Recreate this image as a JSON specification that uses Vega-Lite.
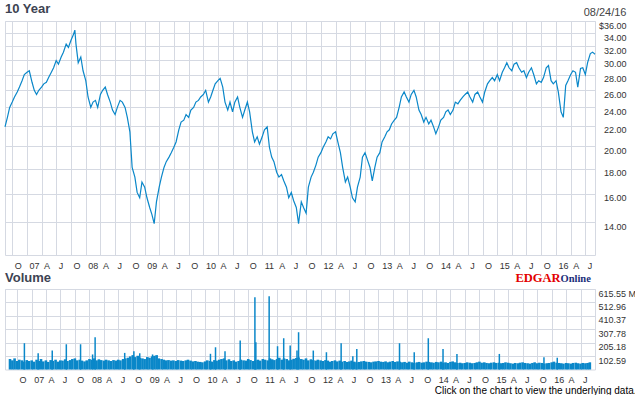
{
"$schema":"https://vega.github.io/schema/vega-lite/v6.json",
"background":"white",
"padding":{"left":2,"top":2,"right":0,"bottom":0},
"autosize":{"type":"pad"},
"config":{"view":{"stroke":"#d5d9e2","strokeWidth":1},"font":"Liberation Sans"},
"bounds":"flush",
"spacing":34,
"datasets":{
"price":[
{"date":"2006-08-17","close":21.9},{"date":"2006-09-01","close":22.9},{"date":"2006-09-15","close":24.0},{"date":"2006-10-01","close":24.6},{"date":"2006-10-15","close":25.2},{"date":"2006-11-01","close":25.8},{"date":"2006-11-15","close":26.4},{"date":"2006-12-01","close":27.2},{"date":"2006-12-15","close":28.0},
{"date":"2007-01-01","close":28.3},{"date":"2007-01-15","close":28.5},{"date":"2007-02-01","close":27.0},{"date":"2007-02-15","close":26.0},{"date":"2007-03-01","close":25.5},{"date":"2007-03-15","close":26.0},{"date":"2007-04-01","close":26.4},{"date":"2007-04-15","close":26.8},{"date":"2007-05-01","close":27.0},{"date":"2007-05-15","close":27.6},{"date":"2007-06-01","close":28.3},{"date":"2007-06-15","close":28.9},{"date":"2007-07-01","close":29.9},{"date":"2007-07-15","close":29.4},{"date":"2007-08-01","close":30.4},{"date":"2007-08-15","close":31.1},{"date":"2007-09-01","close":32.3},{"date":"2007-09-15","close":31.8},{"date":"2007-10-01","close":32.9},{"date":"2007-10-15","close":33.7},{"date":"2007-10-25","close":34.5},{"date":"2007-11-01","close":32.3},{"date":"2007-11-15","close":29.6},{"date":"2007-12-01","close":30.4},{"date":"2007-12-15","close":28.5},
{"date":"2008-01-01","close":27.2},{"date":"2008-01-15","close":25.2},{"date":"2008-02-01","close":24.0},{"date":"2008-02-15","close":24.6},{"date":"2008-03-01","close":24.8},{"date":"2008-03-15","close":24.0},{"date":"2008-04-01","close":25.5},{"date":"2008-04-15","close":26.0},{"date":"2008-05-01","close":26.4},{"date":"2008-05-15","close":25.5},{"date":"2008-06-01","close":24.6},{"date":"2008-06-15","close":23.7},{"date":"2008-07-01","close":23.2},{"date":"2008-07-15","close":24.0},{"date":"2008-08-01","close":24.8},{"date":"2008-08-15","close":24.6},{"date":"2008-09-01","close":24.0},{"date":"2008-09-15","close":22.9},{"date":"2008-10-01","close":21.4},{"date":"2008-10-15","close":18.1},{"date":"2008-11-01","close":17.3},{"date":"2008-11-15","close":16.1},{"date":"2008-12-01","close":15.7},{"date":"2008-12-15","close":16.9},
{"date":"2009-01-01","close":16.5},{"date":"2009-01-15","close":15.7},{"date":"2009-02-01","close":15.0},{"date":"2009-02-15","close":14.5},{"date":"2009-03-01","close":13.9},{"date":"2009-03-15","close":15.4},{"date":"2009-04-01","close":16.5},{"date":"2009-04-15","close":17.3},{"date":"2009-05-01","close":18.1},{"date":"2009-05-15","close":18.6},{"date":"2009-06-01","close":19.0},{"date":"2009-06-15","close":19.4},{"date":"2009-07-01","close":19.9},{"date":"2009-07-15","close":20.4},{"date":"2009-08-01","close":21.6},{"date":"2009-08-15","close":22.4},{"date":"2009-09-01","close":22.6},{"date":"2009-09-15","close":23.2},{"date":"2009-10-01","close":22.9},{"date":"2009-10-15","close":23.7},{"date":"2009-11-01","close":24.0},{"date":"2009-11-15","close":24.6},{"date":"2009-12-01","close":24.8},{"date":"2009-12-15","close":25.2},
{"date":"2010-01-01","close":25.5},{"date":"2010-01-15","close":26.0},{"date":"2010-02-01","close":24.6},{"date":"2010-02-15","close":25.2},{"date":"2010-03-01","close":26.0},{"date":"2010-03-15","close":26.8},{"date":"2010-04-01","close":27.2},{"date":"2010-04-15","close":27.5},{"date":"2010-05-01","close":26.4},{"date":"2010-05-15","close":24.6},{"date":"2010-06-01","close":23.7},{"date":"2010-06-15","close":24.6},{"date":"2010-07-01","close":23.5},{"date":"2010-07-15","close":24.6},{"date":"2010-08-01","close":25.2},{"date":"2010-08-15","close":24.0},{"date":"2010-09-01","close":22.9},{"date":"2010-09-15","close":23.7},{"date":"2010-10-01","close":24.6},{"date":"2010-10-15","close":23.5},{"date":"2010-11-01","close":21.4},{"date":"2010-11-15","close":20.4},{"date":"2010-12-01","close":20.9},{"date":"2010-12-15","close":20.2},
{"date":"2011-01-01","close":20.9},{"date":"2011-01-15","close":21.6},{"date":"2011-02-01","close":21.9},{"date":"2011-02-15","close":19.9},{"date":"2011-03-01","close":19.0},{"date":"2011-03-15","close":18.6},{"date":"2011-04-01","close":17.7},{"date":"2011-04-15","close":17.3},{"date":"2011-05-01","close":17.5},{"date":"2011-05-15","close":17.0},{"date":"2011-06-01","close":16.5},{"date":"2011-06-15","close":15.7},{"date":"2011-07-01","close":16.1},{"date":"2011-07-15","close":15.5},{"date":"2011-08-01","close":15.0},{"date":"2011-08-15","close":13.9},{"date":"2011-09-01","close":15.4},{"date":"2011-09-15","close":15.0},{"date":"2011-10-01","close":14.6},{"date":"2011-10-15","close":16.5},{"date":"2011-11-01","close":17.3},{"date":"2011-11-15","close":17.7},{"date":"2011-12-01","close":18.3},{"date":"2011-12-15","close":19.0},
{"date":"2012-01-01","close":19.4},{"date":"2012-01-15","close":19.9},{"date":"2012-02-01","close":20.4},{"date":"2012-02-15","close":20.9},{"date":"2012-03-01","close":20.7},{"date":"2012-03-15","close":21.2},{"date":"2012-04-01","close":21.4},{"date":"2012-04-15","close":20.4},{"date":"2012-05-01","close":19.4},{"date":"2012-05-15","close":18.1},{"date":"2012-06-01","close":16.9},{"date":"2012-06-15","close":17.3},{"date":"2012-07-01","close":16.5},{"date":"2012-07-15","close":15.7},{"date":"2012-08-01","close":15.4},{"date":"2012-08-15","close":16.5},{"date":"2012-09-01","close":17.3},{"date":"2012-09-15","close":19.0},{"date":"2012-10-01","close":19.4},{"date":"2012-10-15","close":18.8},{"date":"2012-11-01","close":18.1},{"date":"2012-11-15","close":17.0},{"date":"2012-12-01","close":18.1},{"date":"2012-12-15","close":19.0},
{"date":"2013-01-01","close":19.4},{"date":"2013-01-15","close":20.4},{"date":"2013-02-01","close":20.9},{"date":"2013-02-15","close":21.4},{"date":"2013-03-01","close":21.6},{"date":"2013-03-15","close":22.2},{"date":"2013-04-01","close":22.6},{"date":"2013-04-15","close":22.9},{"date":"2013-05-01","close":24.0},{"date":"2013-05-15","close":25.2},{"date":"2013-06-01","close":25.8},{"date":"2013-06-15","close":25.2},{"date":"2013-07-01","close":24.6},{"date":"2013-07-15","close":25.5},{"date":"2013-08-01","close":26.0},{"date":"2013-08-15","close":25.2},{"date":"2013-09-01","close":23.7},{"date":"2013-09-15","close":23.2},{"date":"2013-10-01","close":22.4},{"date":"2013-10-15","close":22.9},{"date":"2013-11-01","close":22.2},{"date":"2013-11-15","close":22.6},{"date":"2013-12-01","close":21.9},{"date":"2013-12-15","close":21.2},
{"date":"2014-01-01","close":21.9},{"date":"2014-01-15","close":22.6},{"date":"2014-02-01","close":22.9},{"date":"2014-02-15","close":23.5},{"date":"2014-03-01","close":23.7},{"date":"2014-03-15","close":23.2},{"date":"2014-04-01","close":23.7},{"date":"2014-04-15","close":24.6},{"date":"2014-05-01","close":24.4},{"date":"2014-05-15","close":24.8},{"date":"2014-06-01","close":25.2},{"date":"2014-06-15","close":25.5},{"date":"2014-07-01","close":25.8},{"date":"2014-07-15","close":25.2},{"date":"2014-08-01","close":24.6},{"date":"2014-08-15","close":25.5},{"date":"2014-09-01","close":25.8},{"date":"2014-09-15","close":25.2},{"date":"2014-10-01","close":24.6},{"date":"2014-10-15","close":25.8},{"date":"2014-11-01","close":26.8},{"date":"2014-11-15","close":27.2},{"date":"2014-12-01","close":27.6},{"date":"2014-12-15","close":27.2},
{"date":"2015-01-01","close":28.0},{"date":"2015-01-15","close":27.2},{"date":"2015-02-01","close":28.3},{"date":"2015-02-15","close":28.9},{"date":"2015-03-01","close":29.6},{"date":"2015-03-15","close":28.9},{"date":"2015-04-01","close":28.5},{"date":"2015-04-15","close":29.4},{"date":"2015-05-01","close":29.6},{"date":"2015-05-15","close":28.9},{"date":"2015-06-01","close":28.3},{"date":"2015-06-15","close":28.5},{"date":"2015-07-01","close":27.6},{"date":"2015-07-15","close":28.3},{"date":"2015-08-01","close":28.9},{"date":"2015-08-15","close":28.0},{"date":"2015-09-01","close":26.8},{"date":"2015-09-15","close":27.2},{"date":"2015-10-01","close":27.0},{"date":"2015-10-15","close":27.6},{"date":"2015-11-01","close":28.9},{"date":"2015-11-15","close":29.2},{"date":"2015-12-01","close":27.2},{"date":"2015-12-15","close":26.8},
{"date":"2016-01-01","close":27.2},{"date":"2016-01-15","close":25.8},{"date":"2016-02-01","close":23.5},{"date":"2016-02-15","close":22.9},{"date":"2016-03-01","close":26.6},{"date":"2016-03-15","close":27.2},{"date":"2016-04-01","close":28.0},{"date":"2016-04-15","close":28.5},{"date":"2016-05-01","close":28.3},{"date":"2016-05-15","close":26.4},{"date":"2016-06-01","close":28.8},{"date":"2016-06-15","close":28.9},{"date":"2016-07-01","close":28.0},{"date":"2016-07-15","close":29.6},{"date":"2016-08-01","close":30.9},{"date":"2016-08-15","close":31.1},{"date":"2016-08-30","close":30.8}
],
"vol":[
{"date":"2006-08-17","v":80},{"date":"2006-09-01","v":70},{"date":"2006-09-15","v":85},{"date":"2006-10-01","v":65},{"date":"2006-10-15","v":75},{"date":"2006-11-01","v":70},{"date":"2006-11-15","v":60},{"date":"2006-12-01","v":72},{"date":"2006-12-15","v":65},
{"date":"2007-01-01","v":70},{"date":"2007-01-15","v":60},{"date":"2007-02-01","v":75},{"date":"2007-02-15","v":65},{"date":"2007-03-01","v":80},{"date":"2007-03-15","v":62},{"date":"2007-04-01","v":70},{"date":"2007-04-15","v":58},{"date":"2007-05-01","v":72},{"date":"2007-05-15","v":66},{"date":"2007-06-01","v":75},{"date":"2007-06-15","v":60},{"date":"2007-07-01","v":70},{"date":"2007-07-15","v":68},{"date":"2007-08-01","v":78},{"date":"2007-08-15","v":65},{"date":"2007-09-01","v":72},{"date":"2007-09-15","v":80},{"date":"2007-10-01","v":85},{"date":"2007-10-15","v":70},{"date":"2007-11-01","v":75},{"date":"2007-11-15","v":68},{"date":"2007-12-01","v":62},{"date":"2007-12-15","v":70},
{"date":"2008-01-01","v":80},{"date":"2008-01-15","v":75},{"date":"2008-02-01","v":85},{"date":"2008-02-15","v":70},{"date":"2008-03-01","v":78},{"date":"2008-03-15","v":72},{"date":"2008-04-01","v":68},{"date":"2008-04-15","v":75},{"date":"2008-05-01","v":70},{"date":"2008-05-15","v":65},{"date":"2008-06-01","v":72},{"date":"2008-06-15","v":68},{"date":"2008-07-01","v":75},{"date":"2008-07-15","v":70},{"date":"2008-08-01","v":80},{"date":"2008-08-15","v":85},{"date":"2008-09-01","v":90},{"date":"2008-09-15","v":100},{"date":"2008-10-01","v":110},{"date":"2008-10-15","v":95},{"date":"2008-11-01","v":105},{"date":"2008-11-15","v":90},{"date":"2008-12-01","v":85},{"date":"2008-12-15","v":80},
{"date":"2009-01-01","v":95},{"date":"2009-01-15","v":90},{"date":"2009-02-01","v":100},{"date":"2009-02-15","v":105},{"date":"2009-03-01","v":110},{"date":"2009-03-15","v":85},{"date":"2009-04-01","v":80},{"date":"2009-04-15","v":75},{"date":"2009-05-01","v":70},{"date":"2009-05-15","v":72},{"date":"2009-06-01","v":68},{"date":"2009-06-15","v":70},{"date":"2009-07-01","v":65},{"date":"2009-07-15","v":72},{"date":"2009-08-01","v":68},{"date":"2009-08-15","v":65},{"date":"2009-09-01","v":70},{"date":"2009-09-15","v":75},{"date":"2009-10-01","v":68},{"date":"2009-10-15","v":62},{"date":"2009-11-01","v":65},{"date":"2009-11-15","v":60},{"date":"2009-12-01","v":58},{"date":"2009-12-15","v":55},
{"date":"2010-01-01","v":62},{"date":"2010-01-15","v":70},{"date":"2010-02-01","v":65},{"date":"2010-02-15","v":60},{"date":"2010-03-01","v":72},{"date":"2010-03-15","v":68},{"date":"2010-04-01","v":75},{"date":"2010-04-15","v":80},{"date":"2010-05-01","v":85},{"date":"2010-05-15","v":70},{"date":"2010-06-01","v":78},{"date":"2010-06-15","v":65},{"date":"2010-07-01","v":70},{"date":"2010-07-15","v":60},{"date":"2010-08-01","v":65},{"date":"2010-08-15","v":75},{"date":"2010-09-01","v":70},{"date":"2010-09-15","v":68},{"date":"2010-10-01","v":80},{"date":"2010-10-15","v":72},{"date":"2010-11-01","v":65},{"date":"2010-11-15","v":70},{"date":"2010-12-01","v":75},{"date":"2010-12-15","v":68},
{"date":"2011-01-01","v":80},{"date":"2011-01-15","v":75},{"date":"2011-02-01","v":70},{"date":"2011-02-15","v":85},{"date":"2011-03-01","v":78},{"date":"2011-03-15","v":72},{"date":"2011-04-01","v":80},{"date":"2011-04-15","v":90},{"date":"2011-05-01","v":75},{"date":"2011-05-15","v":85},{"date":"2011-06-01","v":80},{"date":"2011-06-15","v":70},{"date":"2011-07-01","v":75},{"date":"2011-07-15","v":82},{"date":"2011-08-01","v":88},{"date":"2011-08-15","v":92},{"date":"2011-09-01","v":80},{"date":"2011-09-15","v":75},{"date":"2011-10-01","v":85},{"date":"2011-10-15","v":70},{"date":"2011-11-01","v":78},{"date":"2011-11-15","v":72},{"date":"2011-12-01","v":68},{"date":"2011-12-15","v":75},
{"date":"2012-01-01","v":70},{"date":"2012-01-15","v":65},{"date":"2012-02-01","v":72},{"date":"2012-02-15","v":68},{"date":"2012-03-01","v":60},{"date":"2012-03-15","v":65},{"date":"2012-04-01","v":70},{"date":"2012-04-15","v":62},{"date":"2012-05-01","v":68},{"date":"2012-05-15","v":60},{"date":"2012-06-01","v":65},{"date":"2012-06-15","v":58},{"date":"2012-07-01","v":62},{"date":"2012-07-15","v":68},{"date":"2012-08-01","v":60},{"date":"2012-08-15","v":55},{"date":"2012-09-01","v":58},{"date":"2012-09-15","v":62},{"date":"2012-10-01","v":65},{"date":"2012-10-15","v":60},{"date":"2012-11-01","v":58},{"date":"2012-11-15","v":55},{"date":"2012-12-01","v":60},{"date":"2012-12-15","v":62},
{"date":"2013-01-01","v":65},{"date":"2013-01-15","v":60},{"date":"2013-02-01","v":58},{"date":"2013-02-15","v":62},{"date":"2013-03-01","v":55},{"date":"2013-03-15","v":60},{"date":"2013-04-01","v":65},{"date":"2013-04-15","v":58},{"date":"2013-05-01","v":62},{"date":"2013-05-15","v":60},{"date":"2013-06-01","v":55},{"date":"2013-06-15","v":58},{"date":"2013-07-01","v":52},{"date":"2013-07-15","v":60},{"date":"2013-08-01","v":55},{"date":"2013-08-15","v":50},{"date":"2013-09-01","v":55},{"date":"2013-09-15","v":58},{"date":"2013-10-01","v":52},{"date":"2013-10-15","v":55},{"date":"2013-11-01","v":60},{"date":"2013-11-15","v":58},{"date":"2013-12-01","v":55},{"date":"2013-12-15","v":52},
{"date":"2014-01-01","v":58},{"date":"2014-01-15","v":55},{"date":"2014-02-01","v":60},{"date":"2014-02-15","v":52},{"date":"2014-03-01","v":55},{"date":"2014-03-15","v":50},{"date":"2014-04-01","v":58},{"date":"2014-04-15","v":62},{"date":"2014-05-01","v":55},{"date":"2014-05-15","v":50},{"date":"2014-06-01","v":52},{"date":"2014-06-15","v":48},{"date":"2014-07-01","v":50},{"date":"2014-07-15","v":55},{"date":"2014-08-01","v":52},{"date":"2014-08-15","v":48},{"date":"2014-09-01","v":50},{"date":"2014-09-15","v":55},{"date":"2014-10-01","v":60},{"date":"2014-10-15","v":52},{"date":"2014-11-01","v":55},{"date":"2014-11-15","v":50},{"date":"2014-12-01","v":48},{"date":"2014-12-15","v":52},
{"date":"2015-01-01","v":55},{"date":"2015-01-15","v":50},{"date":"2015-02-01","v":52},{"date":"2015-02-15","v":48},{"date":"2015-03-01","v":50},{"date":"2015-03-15","v":55},{"date":"2015-04-01","v":52},{"date":"2015-04-15","v":48},{"date":"2015-05-01","v":45},{"date":"2015-05-15","v":50},{"date":"2015-06-01","v":48},{"date":"2015-06-15","v":52},{"date":"2015-07-01","v":55},{"date":"2015-07-15","v":50},{"date":"2015-08-01","v":48},{"date":"2015-08-15","v":45},{"date":"2015-09-01","v":50},{"date":"2015-09-15","v":55},{"date":"2015-10-01","v":48},{"date":"2015-10-15","v":52},{"date":"2015-11-01","v":50},{"date":"2015-11-15","v":45},{"date":"2015-12-01","v":48},{"date":"2015-12-15","v":50},
{"date":"2016-01-01","v":55},{"date":"2016-01-15","v":60},{"date":"2016-02-01","v":52},{"date":"2016-02-15","v":50},{"date":"2016-03-01","v":48},{"date":"2016-03-15","v":45},{"date":"2016-04-01","v":50},{"date":"2016-04-15","v":48},{"date":"2016-05-01","v":45},{"date":"2016-05-15","v":50},{"date":"2016-06-01","v":52},{"date":"2016-06-15","v":48},{"date":"2016-07-01","v":45},{"date":"2016-07-15","v":50},{"date":"2016-08-01","v":48},{"date":"2016-08-15","v":50},{"date":"2016-08-29","v":55}
],
"spikes":[
{"date":"2006-11-16","v":201},{"date":"2007-02-11","v":125},{"date":"2007-05-11","v":145},{"date":"2007-08-08","v":193},{"date":"2007-11-06","v":193},{"date":"2008-01-21","v":115},{"date":"2008-02-06","v":247},{"date":"2008-08-11","v":127},{"date":"2008-10-08","v":140},{"date":"2008-11-14","v":124},{"date":"2009-02-03","v":115},{"date":"2010-02-04","v":120},{"date":"2010-03-08","v":170},{"date":"2010-05-07","v":140},{"date":"2010-08-11","v":221},{"date":"2010-11-12","v":552},{"date":"2010-11-18","v":208},{"date":"2011-02-10","v":560},{"date":"2011-04-04","v":178},{"date":"2011-05-13","v":239},{"date":"2011-06-23","v":183},{"date":"2011-08-05","v":145},{"date":"2011-08-15","v":285},{"date":"2011-11-16","v":145},{"date":"2012-02-07","v":132},{"date":"2012-05-10","v":201},{"date":"2012-07-23","v":102},{"date":"2012-08-17","v":157},{"date":"2013-05-14","v":201},{"date":"2013-08-15","v":132},{"date":"2013-11-12","v":239},{"date":"2014-02-13","v":157},{"date":"2014-05-12","v":119},{"date":"2015-02-04","v":119},{"date":"2015-11-13","v":94},{"date":"2016-02-05","v":90}
]
},
"vconcat":[
{
"width":590,"height":234,
"title":{"text":"10 Year","anchor":"start","frame":"group","fontSize":13,"fontWeight":"bold","color":"#3d4352","font":"Liberation Sans","offset":-9.5},
"data":{"name":"price"},
"mark":{"type":"line","color":"#0a87c9","strokeWidth":1.2},
"encoding":{
"x":{"field":"date","type":"temporal",
"scale":{"type":"utc","domain":[{"year":2006,"month":8,"date":17,"utc":true},{"year":2016,"month":8,"date":30,"utc":true}]},
"axis":{"tickCount":{"interval":"month","step":3},"labelExpr":"utcmonth(datum.value)==0 ? utcFormat(datum.value,'%y') : substring(utcFormat(datum.value,'%b'),0,1)","labelAlign":"left","labelOffset":2,"labelPadding":6,"labelOverlap":false,"labelFlush":false,"labelFontSize":9,"labelColor":"#333333","ticks":false,"tickSize":0,"domain":false,"grid":true,"gridColor":"#d5d9e2",
"title":"EDGAR","titleColor":"#e30000","titleFont":"Liberation Serif","titleFontWeight":"bold","titleFontSize":12.5,"titleAlign":"left","titleBaseline":"alphabetic","titleX":510,"titleY":26}},
"y":{"field":"close","type":"quantitative",
"scale":{"type":"log","domain":[12,36],"nice":false},
"axis":{"orient":"right","values":[14,16,18,20,22,24,26,28,30,32,34,36],"labelExpr":"datum.value==36 ? '$36.00' : format(datum.value,'.2f')","labelAlign":"right","labelBaseline":"top","labelPadding":31,"labelFontSize":9,"labelColor":"#333333","ticks":false,"tickSize":0,"domain":false,"grid":true,"gridColor":"#d5d9e2",
"title":"08/24/16","titleAngle":0,"titleAlign":"right","titleBaseline":"middle","titleX":31,"titleY":-9,"titleFontSize":11,"titleFontWeight":"normal","titleColor":"#444444"}}
}
},
{
"width":590,"height":80.5,
"title":{"text":"Volume","anchor":"start","frame":"group","fontSize":13,"fontWeight":"bold","color":"#3d4352","font":"Liberation Sans","offset":-12},
"encoding":{
"x":{"field":"date","type":"temporal",
"scale":{"type":"utc","domain":[{"year":2006,"month":8,"date":17,"utc":true},{"year":2016,"month":8,"date":30,"utc":true}]},
"axis":{"tickCount":{"interval":"month","step":3},"labelExpr":"utcmonth(datum.value)==0 ? utcFormat(datum.value,'%y') : substring(utcFormat(datum.value,'%b'),0,1)","labelAlign":"left","labelOffset":2,"labelPadding":6,"labelOverlap":false,"labelFlush":false,"labelFontSize":9,"labelColor":"#333333","ticks":false,"tickSize":0,"domain":false,"grid":true,"gridColor":"#d5d9e2",
"title":"Click on the chart to view the underlying data.","titleColor":"#000000","titleFontSize":10,"titleFontWeight":"normal","titleAlign":"right","titleBaseline":"middle","titleX":631,"titleY":21}},
"y":{"field":"v","type":"quantitative",
"scale":{"domain":[0,615.55],"nice":false,"zero":true},
"axis":{"orient":"right","values":[102.59,205.18,307.78,410.37,512.96,615.55],"labelExpr":"datum.value==615.55 ? '615.55 M' : format(datum.value,'.2f')","labelAlign":"left","labelBaseline":"top","labelPadding":3,"labelFontSize":9,"labelColor":"#333333","ticks":false,"tickSize":0,"domain":false,"grid":true,"gridColor":"#d5d9e2",
"title":"Online","titleAngle":0,"titleAlign":"left","titleBaseline":"alphabetic","titleX":-35,"titleY":-8,"titleFont":"Liberation Serif","titleFontSize":10.5,"titleFontWeight":"bold","titleColor":"#1b2f7a"}}
},
"layer":[
{"data":{"name":"vol"},"mark":{"type":"bar","color":"#0a87c9","width":2.6}},
{"data":{"name":"spikes"},"mark":{"type":"bar","color":"#0a87c9","width":1.5}}
]
}
]
}
